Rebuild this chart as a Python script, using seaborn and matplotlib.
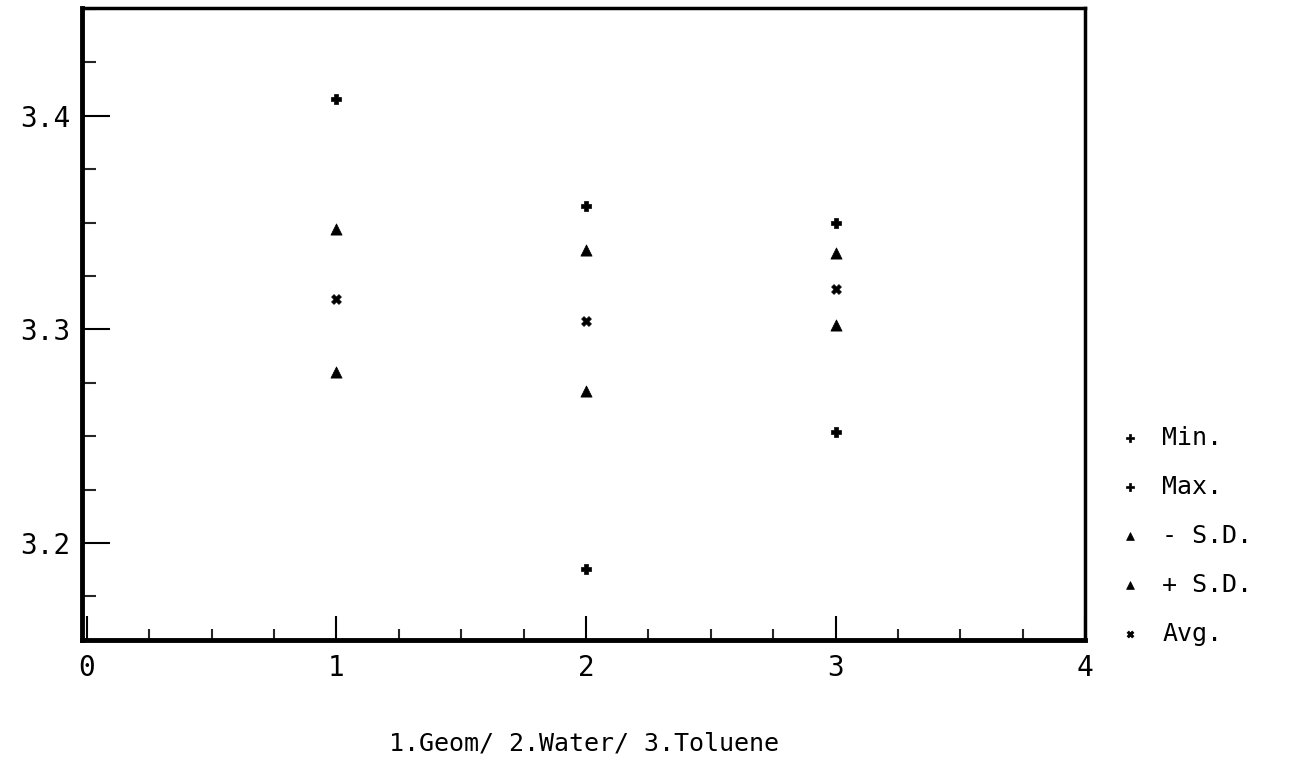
import pandas as pd
import numpy as np
import matplotlib
matplotlib.use("Agg")
import matplotlib.pyplot as plt
import seaborn as sns
from matplotlib.ticker import MultipleLocator

# data (group 1 Min not visible)
groups = [1, 2, 3]
stat_names = ["Min.", "Max.", "- S.D.", "+ S.D.", "Avg."]
min_vals = [np.nan, 3.188, 3.252]
max_vals = [3.408, 3.358, 3.350]
minus_sd = [3.280, 3.271, 3.302]
plus_sd = [3.347, 3.337, 3.336]
avg_vals = [3.314, 3.304, 3.319]

rows = []
for name, vals in zip(stat_names, [min_vals, max_vals, minus_sd, plus_sd, avg_vals]):
    for g, v in zip(groups, vals):
        rows.append({"Group": g, "Value": v, "Stat": name})
df = pd.DataFrame(rows)

sns.set_style("white")
plt.rcParams["font.family"] = ["DejaVu Sans Mono", "DejaVu Sans"]
plt.rcParams["text.color"] = "black"
plt.rcParams["axes.labelcolor"] = "black"

fig = plt.figure(figsize=(12.91, 7.62), dpi=100)
ax = fig.add_axes([0.0635, 0.160, 0.777, 0.8295])

markers = {"Min.": "P", "Max.": "P", "- S.D.": "^", "+ S.D.": "^", "Avg.": "X"}
sizes = {"Min.": 60, "Max.": 60, "- S.D.": 65, "+ S.D.": 65, "Avg.": 50}
for name in stat_names:
    sub = df[df["Stat"] == name]
    sns.scatterplot(data=sub, x="Group", y="Value", marker=markers[name], s=sizes[name],
                    color="black", edgecolor="black", linewidth=0.5, ax=ax, label=name)

ax.set_xlim(-0.02, 4)
ax.set_ylim(3.1545, 3.4505)
ax.xaxis.set_major_locator(MultipleLocator(1))
ax.xaxis.set_minor_locator(MultipleLocator(0.25))
ax.set_yticks([3.2, 3.3, 3.4])
ax.set_yticklabels(["3.2", "3.3", "3.4"])
ax.yaxis.set_minor_locator(MultipleLocator(0.025))
ax.tick_params(bottom=True, left=True, which="both")
ax.tick_params(axis="both", which="major", direction="in", width=1.5,
               labelsize=20, colors="black")
ax.tick_params(axis="x", which="major", length=17, pad=10)
ax.tick_params(axis="x", which="minor", direction="in", length=8, width=1.5)
ax.tick_params(axis="y", which="major", length=20, pad=8)
ax.tick_params(axis="y", which="minor", direction="in", length=10, width=1.5)

for side in ["left", "bottom"]:
    ax.spines[side].set_linewidth(3.5)
for side in ["top", "right"]:
    ax.spines[side].set_linewidth(2.5)
for s in ax.spines.values():
    s.set_color("black")

ax.set_xlabel("1.Geom/ 2.Water/ 3.Toluene", fontsize=18, labelpad=36)
ax.set_ylabel("")

leg = ax.legend(loc="upper left", bbox_to_anchor=(0.997, 0.375), frameon=False,
                fontsize=18, handletextpad=0.3, labelspacing=1.0, markerscale=0.7)

fig.savefig("out.png", dpi=100)
